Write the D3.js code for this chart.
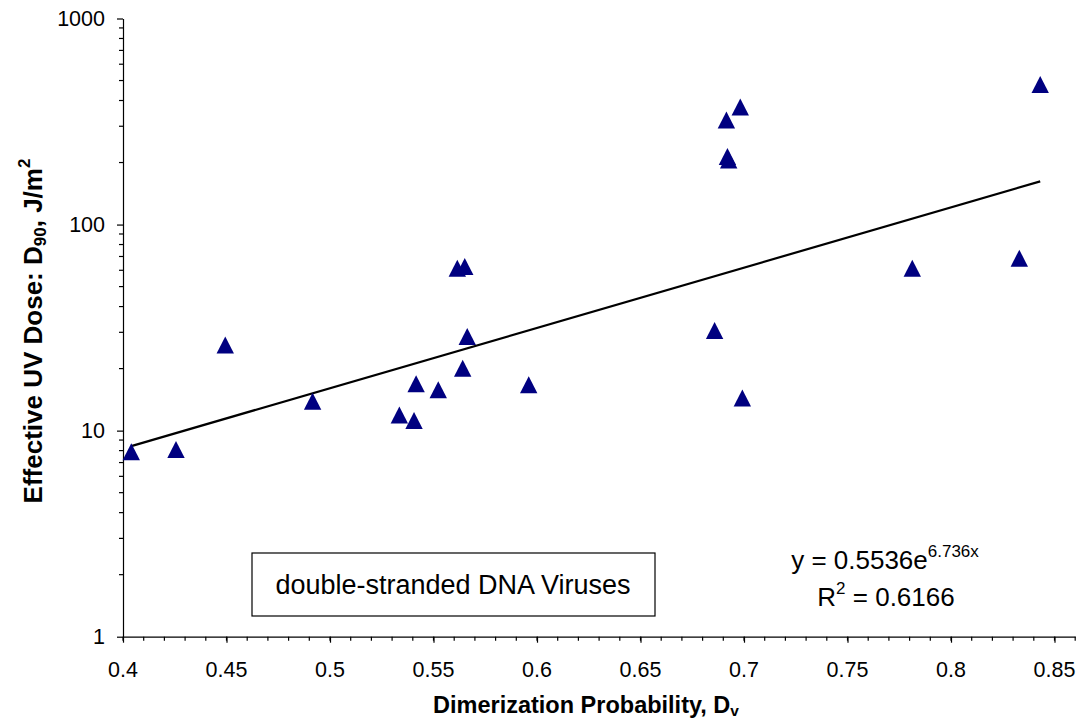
<!DOCTYPE html>
<html>
<head>
<meta charset="utf-8">
<script src="https://cdn.jsdelivr.net/npm/d3@7"></script>
<style>
  html, body { margin: 0; padding: 0; background: #fff; overflow: hidden; }
  svg { display: block; }
  svg text { font-family: "Liberation Sans", Arial, sans-serif; }
</style>
</head>
<body>
<div id="chart"></div>
<script>
// Dimerization probability (x) and effective UV dose D90 (y)
const dimerization = [0.404, 0.4256, 0.4494, 0.4916, 0.5335, 0.5406, 0.5416, 0.5523, 0.5641, 0.5663,
    0.5615, 0.5651, 0.596, 0.6858, 0.6915, 0.6982, 0.692, 0.6926, 0.6992, 0.7813, 0.833, 0.8431];
const doseD90 = [7.9, 8.1, 26, 13.9, 11.9, 11.2, 16.9, 15.8, 20.1, 28.6,
    61.4, 62.6, 16.7, 30.6, 322, 372, 214, 206, 14.4, 61.4, 68.7, 478];

const xTicks = [0.4, 0.45, 0.5, 0.55, 0.6, 0.65, 0.7, 0.75, 0.8, 0.85];
const yTicks = [1, 10, 100, 1000];

// exponential trendline y = a * e^(b x)
const trendA = 0.5536;
const trendB = 6.736;
const equationText = ["y = 0.5536e", "6.736x"];
const rSquaredText = "0.6166";
const boxLabel = "double-stranded DNA Viruses";

const width = 1080, height = 725;
const margin = { top: 18.5, right: 4.8, bottom: 88.3, left: 123 };
const innerWidth = width - margin.left - margin.right;
const innerHeight = height - margin.top - margin.bottom;

const svg = d3.select("#chart").append("svg")
    .attr("width", width)
    .attr("height", height);

const g = svg.append("g")
    .attr("transform", `translate(${margin.left},${margin.top})`);

const x = d3.scaleLinear().domain([0.4, 0.86]).range([0, innerWidth]);
const y = d3.scaleLog().domain([1, 1000]).range([innerHeight, 0]);

// minor tick positions
const xMinor = d3.range(0, 47).map(i => 0.4 + i * 0.01);
const yMinor = [];
[1, 10, 100].forEach(d => { for (let k = 2; k <= 9; k++) yMinor.push(d * k); });

// minor ticks
g.append("g")
    .selectAll("line")
    .data(xMinor)
    .enter().append("line")
    .attr("x1", d => x(d)).attr("x2", d => x(d))
    .attr("y1", innerHeight).attr("y2", innerHeight + 4)
    .attr("stroke", "#000").attr("stroke-width", 1.2);

g.append("g")
    .selectAll("line")
    .data(yMinor)
    .enter().append("line")
    .attr("x1", 0).attr("x2", -4)
    .attr("y1", d => y(d)).attr("y2", d => y(d))
    .attr("stroke", "#000").attr("stroke-width", 1.2);

// X axis (lines from d3, labels drawn below)
const xAxis = g.append("g")
    .attr("transform", `translate(0,${innerHeight})`)
    .call(d3.axisBottom(x).tickValues(xTicks).tickSize(6).tickSizeOuter(0).tickFormat(""));
xAxis.selectAll(".domain").attr("stroke", "#000").attr("stroke-width", 1.2);
xAxis.selectAll("line").attr("stroke", "#000").attr("stroke-width", 1.2);
xAxis.selectAll("text").remove();

g.append("g")
    .selectAll("text")
    .data(xTicks)
    .enter().append("text")
    .attr("x", d => x(d))
    .attr("y", innerHeight + 40)
    .attr("text-anchor", "middle")
    .attr("font-size", 21.5)
    .attr("fill", "#000")
    .text(d3.format("~g"));

// Y axis
const yAxis = g.append("g")
    .call(d3.axisLeft(y).tickValues(yTicks).tickSize(6).tickSizeOuter(0).tickFormat(""));
yAxis.selectAll(".domain").attr("stroke", "#000").attr("stroke-width", 1.2);
yAxis.selectAll("line").attr("stroke", "#000").attr("stroke-width", 1.2);
yAxis.selectAll("text").remove();

g.append("g")
    .selectAll("text")
    .data(yTicks)
    .enter().append("text")
    .attr("x", -18)
    .attr("y", d => y(d) + 7.5)
    .attr("text-anchor", "end")
    .attr("font-size", 21.5)
    .attr("fill", "#000")
    .text(d3.format("d"));

// Trendline
const xExt = d3.extent(dimerization);
const trend = xExt.map(v => [v, trendA * Math.exp(trendB * v)]);
g.append("path")
    .datum(trend)
    .attr("fill", "none")
    .attr("stroke", "#000")
    .attr("stroke-width", 2.2)
    .attr("d", d3.line().x(d => x(d[0])).y(d => y(d[1])));

// Points
const points = dimerization.map((v, i) => ({ x: v, y: doseD90[i] }));
g.selectAll("path.pt")
    .data(points)
    .enter().append("path")
    .attr("class", "pt")
    .attr("d", "M0,-8.5L8.7,8.5L-8.7,8.5Z")
    .attr("transform", d => `translate(${x(d.x)},${y(d.y)})`)
    .attr("fill", "#000080");

// Label box
g.append("rect")
    .attr("x", 252 - margin.left)
    .attr("y", 553 - margin.top)
    .attr("width", 403)
    .attr("height", 63)
    .attr("fill", "#fff")
    .attr("stroke", "#000")
    .attr("stroke-width", 1.2);

g.append("text")
    .attr("x", 453 - margin.left)
    .attr("y", 594 - margin.top)
    .attr("text-anchor", "middle")
    .attr("font-size", 27)
    .text(boxLabel);

// Equation
const eq = g.append("text")
    .attr("x", 885 - margin.left)
    .attr("y", 569 - margin.top)
    .attr("text-anchor", "middle")
    .attr("font-size", 26);
eq.append("tspan").text(equationText[0]);
eq.append("tspan").attr("font-size", 17).attr("dy", -12).text(equationText[1]);

const r2 = g.append("text")
    .attr("x", 886 - margin.left)
    .attr("y", 606 - margin.top)
    .attr("text-anchor", "middle")
    .attr("font-size", 26);
r2.append("tspan").text("R");
r2.append("tspan").attr("font-size", 17).attr("dy", -12).text("2");
r2.append("tspan").attr("dy", 12).text(" = " + rSquaredText);

// Axis titles
const xt = svg.append("text")
    .attr("x", 586)
    .attr("y", 713)
    .attr("text-anchor", "middle")
    .attr("font-size", 23.5)
    .attr("font-weight", "bold");
xt.append("tspan").text("Dimerization Probability, D");
xt.append("tspan").attr("font-size", 15.5).attr("dy", 3).text("v");

const yt = svg.append("text")
    .attr("transform", `translate(42,331) rotate(-90)`)
    .attr("text-anchor", "middle")
    .attr("font-size", 26)
    .attr("font-weight", "bold");
yt.append("tspan").text("Effective UV Dose: D");
yt.append("tspan").attr("font-size", 17).attr("dy", 4).text("90");
yt.append("tspan").attr("dy", -4).text(", J/m");
yt.append("tspan").attr("font-size", 17).attr("dy", -12).text("2");
</script>
</body>
</html>
